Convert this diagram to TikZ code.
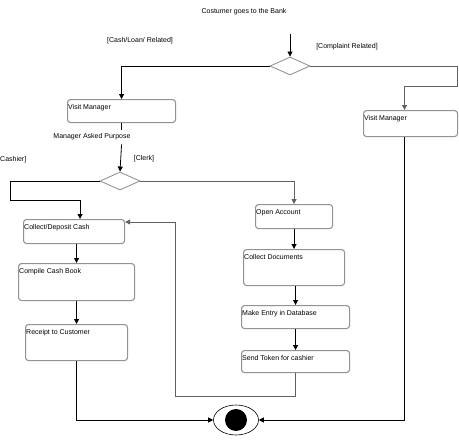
\documentclass[tikz,border=0pt]{standalone}
\usepackage{fontspec}
\setmainfont{Liberation Sans}
\usepackage{tikz}
\usetikzlibrary{arrows.meta,positioning}
\usetikzlibrary{shapes.geometric}
\colorlet{boxline}{gray!85}
\colorlet{grayline}{gray!75!black}

\begin{document}
\begin{tikzpicture}[
      x=1pt,y=-1pt,font=\fontsize{7}{8}\selectfont,
      act/.style={draw=boxline,line width=1.1pt,rounded corners=3pt,anchor=north west,inner sep=0pt},
      acttext/.style={inner sep=0pt,anchor=north west},
      branch/.style={diamond,draw=boxline,line width=.9pt,minimum width=40pt,minimum height=18pt,inner sep=0pt,aspect=2.2},
      flow/.style={draw=black,line width=.8pt,-{Triangle[length=5pt,width=5pt]}},
      grayflow/.style={flow,draw=grayline}
    ]
    \useasboundingbox (0,0) rectangle (459,447);

    \node (start) at (244,12) {Costumer goes to the Bank};
    \coordinate (startpt) at (290,34);

    \node[branch] (dec1) at (290,66) {};
    \node (cashlbl) at (140,41) {[Cash/Loan/ Related]};
    \node (complbl) at (347,47) {[Complaint Related]};

    \node[act,minimum width=108pt,minimum height=23pt] (vm1) at (67,99) {};
    \node[acttext,below right=5pt and 1pt of vm1.north west] {Visit Manager};

    \node[act,minimum width=94pt,minimum height=26pt] (vm2) at (363,110) {};
    \node[acttext,below right=5pt and 1pt of vm2.north west] {Visit Manager};

    \node[inner sep=4pt] (purpose) at (92,137) {Manager Asked Purpose};

    \node[branch] (dec2) at (120,181) {};
    \node (clerklbl) at (144,159) {[Clerk]};
    \node[anchor=west,inner sep=0pt] (cashierlbl) at (0,160) {Cashier]};

    % cashier side
    \node[act,minimum width=101pt,minimum height=24pt] (cdc) at (23,219) {};
    \node[acttext,below right=5pt and 1pt of cdc.north west] {Collect/Deposit Cash};

    \node[act,minimum width=116pt,minimum height=37pt] (ccb) at (18,263) {};
    \node[acttext,below right=5pt and 1pt of ccb.north west] {Compile Cash Book};

    \node[act,minimum width=102pt,minimum height=36pt] (rtc) at (25,324) {};
    \node[acttext,below right=5pt and 1pt of rtc.north west] {Receipt to Customer};

    % clerk side
    \node[act,minimum width=77pt,minimum height=24pt] (oa) at (255,204) {};
    \node[acttext,below right=5pt and 1pt of oa.north west] {Open Account};

    \node[act,minimum width=101pt,minimum height=36pt] (cd) at (243,249) {};
    \node[acttext,below right=5pt and 1pt of cd.north west] {Collect Documents};

    \node[act,minimum width=108pt,minimum height=23pt] (me) at (241,305) {};
    \node[acttext,below right=5pt and 1pt of me.north west] {Make Entry in Database};

    \node[act,minimum width=108pt,minimum height=22pt] (st) at (241,350) {};
    \node[acttext,below right=5pt and 1pt of st.north west] {Send Token for cashier};

    % final state
    \node[ellipse,draw=black,line width=.6pt,minimum width=45pt,minimum height=30pt,inner sep=0pt] (final) at (236,420) {};
    \node[circle,fill=black,minimum size=22pt,inner sep=0pt] at (final.center) {};

    \path[flow] (startpt) -- (dec1.north);
    \path[flow] (dec1.west) -| (vm1.north);
    \path[grayflow] (dec1.east) -- ++(147,0) -- ++(0,20) -| ([xshift=-6pt]vm2.north);

    \path[draw=black,line width=.8pt] (vm1.south) -- (vm1.south |- purpose.north);
    \path[flow] (vm1.south |- purpose.south) -- (dec2.north);

    \path[flow] (dec2.west) -- ++(-89,0) -- ++(0,19) -| ([xshift=6pt]cdc.north);
    \path[grayflow] (dec2.east) -| (oa.north);

    \path[flow] (ccb.north |- cdc.south) -- (ccb.north);
    \path[flow] (ccb.south) -- (ccb.south |- rtc.north);
    \path[flow] (rtc.south) |- (final.west);

    \path[flow] (oa.south) -- (oa.south |- cd.north);
    \path[flow] (me.north |- cd.south) -- (me.north);
    \path[flow] (me.south) -- (st.north);
    \path[grayflow] (st.south) -- ++(0,23) -- ++(-120,0) |- ([yshift=-3pt]cdc.north east);

    \path[flow] ([xshift=-6pt]vm2.south) |- (final.east);
  \end{tikzpicture}
\end{document}
